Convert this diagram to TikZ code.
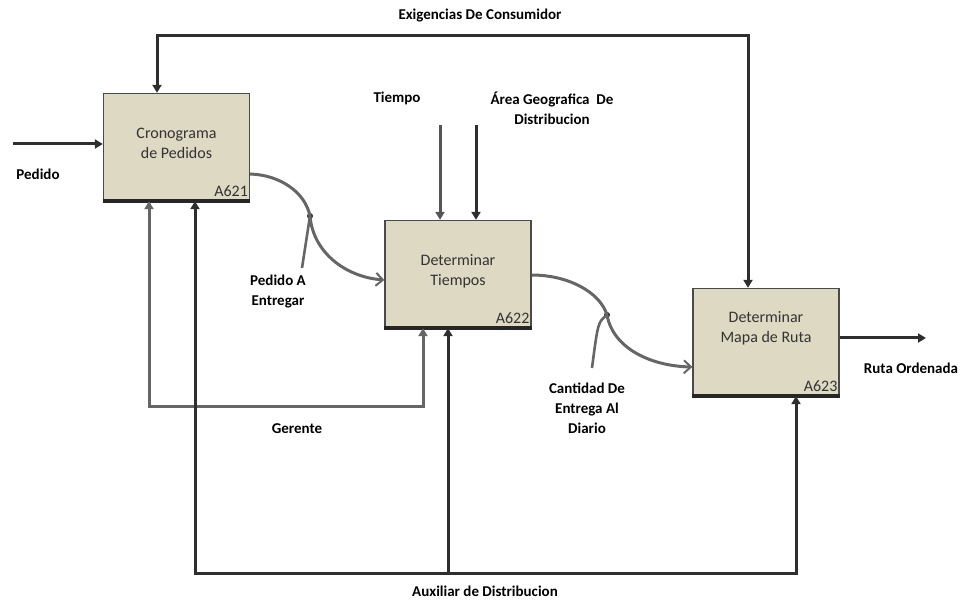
\documentclass[tikz,border=0pt]{standalone}
\usepackage{fontspec}
\setmainfont{Carlito}
\usetikzlibrary{arrows.meta}
\definecolor{boxfill}{HTML}{DDD9C3}
\definecolor{boxline}{HTML}{4A4A4A}
\definecolor{boxdark}{HTML}{262626}
\definecolor{textgray}{HTML}{333333}
\definecolor{darkline}{HTML}{2E2E2E}
\definecolor{midline}{HTML}{555555}
\definecolor{softline}{HTML}{666666}
\begin{document}
\begin{tikzpicture}[x=1pt,y=-1pt,
  box/.style={draw=boxline, line width=1.3pt, fill=boxfill, inner sep=0pt,
              minimum width=146pt, minimum height=107pt},
  boxtext/.style={font=\fontsize{16}{20}\selectfont, text=textgray, align=center, inner sep=0pt},
  idtext/.style={font=\fontsize{16}{20}\selectfont, text=textgray, inner sep=2pt, anchor=south east},
  lbl/.style={font=\bfseries\fontsize{15}{20}\selectfont, text=black, align=center, inner sep=0pt},
  arr/.style={draw=darkline, line width=3pt, -{Triangle[length=8pt,width=9pt]}},
  garr/.style={draw=softline, line width=3pt},
  curv/.style={draw=softline, line width=3pt, -{Straight Barb[length=7pt,width=13pt,line width=2pt]}},
  leader/.style={draw=softline, line width=2.6pt},
  dot/.style={circle, fill=boxdark, inner sep=0pt, minimum size=6pt}
]
\useasboundingbox (0,0) rectangle (970,601);

% activity boxes
\node[box] (b1) at (176.5,147) {};
\node[box] (b2) at (458,274) {};
\node[box] (b3) at (766,342) {};
\foreach \b in {b1,b2,b3}
  \draw[boxdark, line width=3.5pt] (\b.south west) -- (\b.south east);

\node[boxtext] (b1t) at (176.5,143) {Cronograma\\de Pedidos};
\node[boxtext] (b2t) at (458,271) {Determinar\\Tiempos};
\node[boxtext] (b3t) at (766,328) {Determinar\\Mapa de Ruta};
\node[idtext] (b1id) at ([yshift=2pt]b1.south east) {A621};
\node[idtext] (b2id) at ([yshift=2pt]b2.south east) {A622};
\node[idtext] (b3id) at ([yshift=2pt]b3.south east) {A623};

% control from the consumer (top)
\coordinate (tl) at (157,36);
\coordinate (tr) at (748,36);
\draw[draw=darkline, line width=3pt, {Triangle[length=8pt,width=9pt]}-{Triangle[length=8pt,width=9pt]}]
  (b1.north -| tl) -- (tl) -- (tr) -- (b3.north -| tr);
\node[lbl] (lexig) at (480,16) {Exigencias De Consumidor};

% input order
\coordinate (pin) at (13,144);
\draw[arr] (pin) -- (b1.west |- pin);
\node[lbl] (lped) at (38,174) {Pedido};

% controls of the second activity
\coordinate (tp1) at (440,125);
\coordinate (tp2) at (476,125);
\draw[arr, draw=midline] (tp1) -- (b2.north -| tp1);
\draw[arr] (tp2) -- (b2.north -| tp2);
\node[lbl] (ltie) at (397,98) {Tiempo};
\node[lbl] (larea) at (552,108) {Área Geografica~ De\\Distribucion};

% mechanism: manager
\coordinate (g1) at (149,407);
\coordinate (g2) at (423,407);
\draw[garr, {Triangle[length=8pt,width=9pt]}-{Triangle[length=8pt,width=9pt]}]
  (b1.south -| g1) -- (g1) -- (g2) -- (b2.south -| g2);
\node[lbl] (lger) at (297,429) {Gerente};

% mechanism: distribution assistant
\coordinate (a1) at (195,573);
\coordinate (a2) at (448,573);
\coordinate (a3) at (796,573);
\draw[draw=darkline, line width=3pt, {Triangle[length=8pt,width=9pt]}-{Triangle[length=8pt,width=9pt]}]
  (b1.south -| a1) -- (a1) -- (a3) -- (b3.south -| a3);
\draw[arr] (a2) -- (b2.south -| a2);
\node[lbl] (laux) at (485,591) {Auxiliar de Distribucion};

% flow from A621 to A622
\node[dot] (d1) at (310,216) {};
\draw[curv] (b1.east |- 0,174) .. controls (280,175) and (305,192) .. (d1.center)
  .. controls (313,252) and (345,277) .. (b2.west |- 0,280);
\draw[leader] (d1.center) -- (302,268);
\node[lbl] (lpa) at (278,292) {Pedido A\\Entregar};

% flow from A622 to A623
\node[dot] (d2) at (607,315) {};
\draw[curv] (b2.east |- 0,275) .. controls (568,275) and (600,292) .. (d2.center)
  .. controls (613,348) and (650,366) .. (b3.west |- 0,367);
\draw[leader] (d2.center) .. controls (598,322) .. (592,368);
\node[lbl] (lcant) at (587,408) {Cantidad De\\Entrega Al\\Diario};

% output
\coordinate (rout) at (926,338);
\draw[arr] (b3.east |- rout) -- (rout);
\node[lbl] (lruta) at (911,368) {Ruta Ordenada};
\end{tikzpicture}
\end{document}
